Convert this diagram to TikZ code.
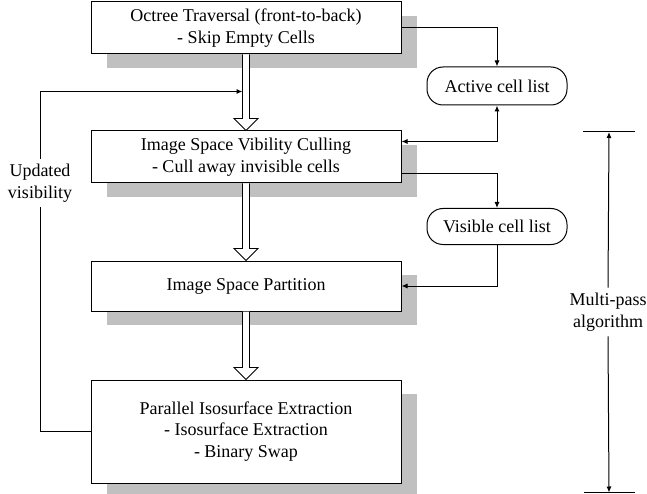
\documentclass[tikz,border=0pt]{standalone}
\usepackage{fontspec}
\setmainfont{Liberation Serif}
\usepackage{tikz}
\usetikzlibrary{arrows.meta,positioning,calc,shadows}
\definecolor{shadowgray}{HTML}{C0C0C0}
\tikzset{
  stage/.style={draw,fill=white,line width=1pt,minimum width=310pt,align=center,
    general shadow={fill=shadowgray,shadow xshift=16pt,shadow yshift=-14pt}},
  celllist/.style={draw,rounded corners=16pt,line width=1pt,minimum width=140pt,minimum height=38pt},
  tip/.tip={Latex[length=6pt,width=5pt]}
}
\newcommand{\fatarrow}[2]{%
  \draw[fill=white,line width=0.9pt] ($(#1.south)+(-3.5,0)$) -- ($(#2.north)+(-3.5,-12)$)
    -- ($(#2.north)+(-12,-12)$) -- (#2.north) -- ($(#2.north)+(12,-12)$)
    -- ($(#2.north)+(3.5,-12)$) -- ($(#1.south)+(3.5,0)$);}

\begin{document}
\begin{tikzpicture}[x=1pt,y=-1pt,line width=1pt,font=\fontsize{18}{21.5}\selectfont]
          \useasboundingbox (0,0) rectangle (647,494);
          \node[stage,minimum height=52pt] (trav) at (246,28) {Octree Traversal (front-to-back)\\- Skip Empty Cells};
          \node[stage,minimum height=52pt] (cull) at (246,157) {Image Space Vibility Culling\\- Cull away invisible cells};
          \node[stage,minimum height=50pt] (part) at (246,286) {Image Space Partition};
          \node[stage,minimum height=103pt] (iso) at (246,431.5) {Parallel Isosurface Extraction\\- Isosurface Extraction\\- Binary Swap};
          \node[celllist] (active) at (497,86) {Active cell list};
          \node[celllist,minimum height=36pt] (visible) at (497,226.5) {Visible cell list};
          \fatarrow{trav}{cull}
          \fatarrow{cull}{part}
          \fatarrow{part}{iso}
          \draw[-tip] (trav.east) -| (active.north);
          \draw[tip-tip] (active.south) |- ([yshift=-11pt]cull.north east);
          \draw[-tip] ([yshift=10pt]cull.south east) -| (visible.north);
          \draw[-tip] (visible.south) |- (part.east);
          % feedback loop
          \node[align=center,inner sep=5pt] (upd) at (40,183) {Updated\\visibility};
          \coordinate (fbin) at ($(trav.south)+(-3.5,37)$);
          \draw (iso.west) -| (upd.south);
          \draw[-tip] (upd.north) |- (fbin);
          % multi-pass span
          \coordinate (mtop) at (609,132);
          \coordinate (mbot) at (609,492.5);
          \node[align=center,inner sep=5pt] (multi) at (608,312) {Multi-pass\\algorithm};
          \draw ([xshift=-26pt]mtop) -- ([xshift=26pt]mtop);
          \draw ([xshift=-25pt]mbot) -- ([xshift=26pt]mbot);
          \draw[-tip] (multi.north) -- (mtop);
          \draw[-tip] (multi.south) -- (mbot);
        \end{tikzpicture}
\end{document}
